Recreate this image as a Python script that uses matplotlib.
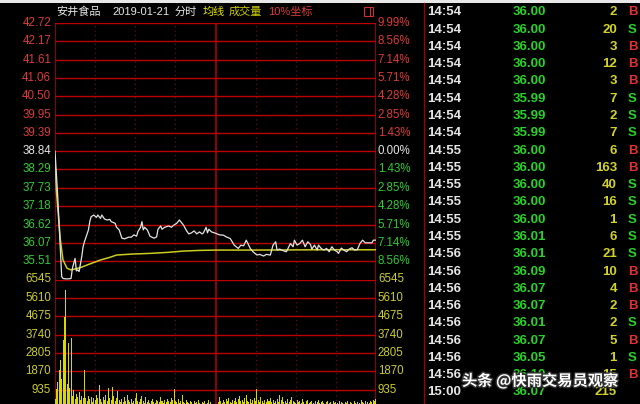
import matplotlib
matplotlib.use('Agg')
import matplotlib.pyplot as plt
from matplotlib.patches import Rectangle
from matplotlib.lines import Line2D
from matplotlib import patheffects
from matplotlib.transforms import blended_transform_factory

plt.rcParams['font.family'] = ['Liberation Sans', 'Noto Sans CJK SC']

# ---- intraday price (minute index, price) ----
price_min = [0, 2, 4, 5, 6, 8, 10, 12, 13, 14,
             15, 16, 17, 18, 20, 21, 22, 25, 26, 27,
             29, 31, 32, 34, 35, 37, 39, 41, 42, 45,
             46, 48, 50, 52, 55, 57, 59, 61, 62, 64,
             65, 66, 67, 69, 70, 71, 74, 76, 77, 79,
             80, 82, 85, 87, 89, 91, 93, 94, 96, 98,
             100, 102, 104, 106, 108, 110, 111, 113, 114, 115,
             117, 120, 123, 126, 128, 131, 134, 137, 139, 141,
             143, 146, 148, 151, 153, 156, 158, 161, 163, 165,
             166, 168, 170, 173, 176, 178, 179, 181, 183, 185,
             187, 189, 191, 192, 194, 196, 197, 199, 201, 203,
             205, 207, 209, 211, 212, 214, 216, 218, 220, 222,
             224, 226, 228, 230, 232, 235, 237, 238, 240]
price_val = [38.84, 37.50, 35.90, 35.05, 34.99, 34.98, 34.98, 34.99, 35.30, 35.45,
             35.60, 35.22, 35.25, 35.20, 35.65, 35.95, 36.10, 36.46, 36.71, 36.86,
             36.91, 36.84, 36.91, 36.81, 36.91, 36.79, 36.76, 36.78, 36.71, 36.66,
             36.54, 36.46, 36.21, 36.19, 36.24, 36.24, 36.31, 36.27, 36.41, 36.54,
             36.71, 36.46, 36.54, 36.46, 36.37, 36.27, 36.21, 36.25, 36.48, 36.58,
             36.48, 36.54, 36.58, 36.54, 36.61, 36.66, 36.76, 36.71, 36.61, 36.46,
             36.34, 36.37, 36.43, 36.34, 36.40, 36.34, 36.37, 36.54, 36.37, 36.48,
             36.40, 36.36, 36.31, 36.30, 36.25, 36.20, 36.00, 35.90, 36.00, 35.98,
             36.15, 35.90, 35.80, 35.70, 35.72, 35.67, 35.72, 35.70, 36.00, 36.10,
             35.85, 35.88, 35.84, 35.80, 36.05, 35.95, 36.15, 36.00, 36.05, 36.15,
             35.95, 36.10, 36.02, 35.88, 36.00, 35.85, 36.00, 35.90, 35.85, 35.90,
             35.80, 35.95, 35.85, 35.80, 35.75, 35.91, 35.85, 35.80, 35.88, 35.92,
             35.85, 35.86, 36.05, 36.15, 36.07, 36.07, 36.07, 36.15, 36.15]

avg_min = [0, 1, 4, 6, 9, 12, 19, 26, 34, 41, 46, 58, 71, 84, 96, 108, 121, 150, 200, 240]
avg_val = [38.55, 37.66, 36.16, 35.55, 35.30, 35.25, 35.32, 35.43, 35.55, 35.63,
           35.70, 35.73, 35.75, 35.78, 35.82, 35.84, 35.85, 35.85, 35.86, 35.86]

# ---- per-minute volume ----
volume = [470, 980, 1300, 1930, 2440, 1500, 3460, 4630, 5990, 1200,
          3300, 1000, 3540, 600, 900, 450, 700, 550, 800, 400,
          600, 500, 1930, 500, 350, 600, 450, 550, 300, 500,
          400, 650, 500, 1150, 450, 300, 550, 400, 650, 350,
          1020, 500, 400, 1050, 600, 350, 500, 850, 400, 300,
          450, 300, 550, 350, 660, 400, 300, 450, 250, 350,
          500, 760, 350, 300, 450, 600, 350, 250, 580, 300,
          400, 250, 350, 450, 300, 250, 400, 350, 300, 580,
          350, 250, 400, 300, 450, 350, 300, 500, 400, 970,
          350, 300, 450, 250, 350, 660, 300, 250, 400, 300,
          250, 350, 300, 200, 350, 250, 300, 400, 250, 200,
          300, 250, 350, 200, 250, 400, 300, 200, 150, 150,
          150, 150, 300, 560, 350, 250, 400, 300, 450, 350,
          500, 300, 250, 400, 350, 500, 300, 450, 610, 350,
          400, 300, 500, 660, 350, 300, 450, 250, 400, 500,
          350, 950, 400, 300, 550, 350, 250, 400, 300, 450,
          350, 500, 300, 400, 250, 350, 450, 300, 660, 400,
          550, 300, 350, 250, 450, 300, 400, 560, 350, 300,
          250, 400, 300, 350, 250, 450, 300, 200, 350, 400,
          250, 300, 350, 250, 200, 350, 300, 400, 250, 300,
          350, 250, 200, 300, 350, 250, 300, 200, 350, 250,
          300, 250, 200, 350, 300, 250, 200, 300, 250, 350,
          200, 300, 250, 200, 350, 250, 300, 200, 250, 400,
          300, 250, 350, 200, 300, 250, 350, 300, 400, 350, 450]

# ---- axis labels ----
price_ticks = [42.72, 42.17, 41.61, 41.06, 40.50, 39.95, 39.39, 38.84,
               38.29, 37.73, 37.18, 36.62, 36.07, 35.51]
pct_labels = ['9.99%', '8.56%', '7.14%', '5.71%', '4.28%', '2.85%', '1.43%', '0.00%',
              '1.43%', '2.85%', '4.28%', '5.71%', '7.14%', '8.56%']
price_low = 34.96
prev_close = 38.84
vol_ticks = [6545, 5610, 4675, 3740, 2805, 1870, 935]

# ---- tick-by-tick list ----
tick_time = ['14:54'] * 8 + ['14:55'] * 6 + ['14:56'] * 8 + ['15:00']
tick_price = ['36.00', '36.00', '36.00', '36.00', '36.00', '35.99', '35.99', '35.99',
              '36.00', '36.00', '36.00', '36.00', '36.00', '36.01',
              '36.01', '36.09', '36.07', '36.07', '36.01', '36.07', '36.05', '36.10',
              '36.07']
tick_vol = ['2', '20', '3', '12', '3', '7', '2', '7',
            '6', '163', '40', '16', '1', '6',
            '21', '10', '4', '2', '2', '5', '1', '15',
            '215']
tick_side = ['B', 'S', 'B', 'B', 'B', 'S', 'S', 'S',
             'B', 'B', 'S', 'S', 'S', 'S',
             'S', 'B', 'B', 'B', 'S', 'B', 'S', 'B',
             '']

RED = '#dc3a3a'
GREEN = '#30cc30'
WHITE = '#e6e6e6'
YEL = '#cccc30'
GRID = '#bc0000'

W, H = 640, 404
fig = plt.figure(figsize=(6.4, 4.04), dpi=100, facecolor='black')


def fx(px):
    return px / W


def fy(py):
    return 1 - py / H


# price panel on top, volume panel below (runs a little past the bottom edge)
ax_p = fig.add_axes([fx(55), fy(279.5), 321 / W, 256.5 / H])
ax_v = fig.add_axes([fx(55), fy(408), 321 / W, 128.5 / H])

for ax in (ax_p, ax_v):
    ax.set_facecolor('black')
    for s in ax.spines.values():
        s.set_visible(False)
    ax.set_xticks([])
    ax.set_yticks([])
    ax.set_xlim(0, 240)
    for m in range(0, 241, 30):
        if m in (0, 120, 240):
            ax.axvline(m, color=GRID, lw=1.1, zorder=1)
        else:
            ax.axvline(m, color='#8c0000', lw=0.8, ls=(0, (1, 3)), zorder=1)

ax_p.set_ylim(price_low, price_ticks[0])
ax_v.set_ylim(0, vol_ticks[0])

for v in price_ticks:
    ax_p.axhline(v, color=GRID, lw=1.0, zorder=1)
for v in vol_ticks:
    ax_v.axhline(v, color=GRID, lw=1.0, zorder=1)

tp = blended_transform_factory(ax_p.transAxes, ax_p.transData)
for v, lab in zip(price_ticks, pct_labels):
    if v > prev_close:
        col = RED
    elif v < prev_close:
        col = GREEN
    else:
        col = WHITE
    ax_p.text(-0.012, v, f'{v:.2f}', transform=tp, ha='right', va='center',
              color=col, fontsize=8.3)
    ax_p.text(1.006, v, lab, transform=tp, ha='left', va='center',
              color=col, fontsize=8.3)

tv = blended_transform_factory(ax_v.transAxes, ax_v.transData)
for v in vol_ticks:
    ax_v.text(-0.012, v, str(v), transform=tv, ha='right', va='center',
              color=YEL, fontsize=8.3)
    ax_v.text(1.006, v, str(v), transform=tv, ha='left', va='center',
              color=YEL, fontsize=8.3)

ax_p.plot(price_min, price_val, color='#e4e4e4', lw=0.9, zorder=4)
ax_p.plot(avg_min, avg_val, color='#cccc1e', lw=1.1, zorder=3)
ax_v.bar(range(len(volume)), volume, width=0.75, color='#d8d800', lw=0, zorder=3)

# title row
title_parts = [(56, '安井食品', WHITE), (112, '2019-01-21', WHITE), (175, '分时', WHITE),
               (203, '均线', '#e8e800'), (229, '成交量', '#cccc00'), (268, '10%坐标', RED)]
for x, t, c in title_parts:
    fig.text(fx(x), fy(12), t, color=c, fontsize=8, ha='left', va='center')

# small window icon
fig.patches.append(Rectangle((fx(364), fy(15.5)), 8.5 / W, 8.5 / H, transform=fig.transFigure,
                             fill=False, edgecolor='#c83232', lw=0.8))
fig.lines.append(Line2D([fx(370), fx(370)], [fy(15.5), fy(7)], transform=fig.transFigure,
                        color='#c83232', lw=0.8))

# top light strip and separator
fig.patches.append(Rectangle((0, fy(3)), 1, 3 / H, transform=fig.transFigure,
                             color='#e8e8e8', lw=0))
fig.lines.append(Line2D([fx(424), fx(424)], [fy(3), 0], transform=fig.transFigure,
                        color='#a00000', lw=1.0))

# tick list
for i in range(len(tick_time)):
    y = fy(12.3 + 17.28 * i)
    fig.text(fx(427), y, tick_time[i], color=WHITE, fontsize=9.5, weight='bold',
             ha='left', va='center')
    fig.text(fx(513), y, tick_price[i], color='#28d228', fontsize=9.5, weight='bold',
             ha='left', va='center')
    fig.text(fx(617), y, tick_vol[i], color='#d2d228', fontsize=9.5, weight='bold',
             ha='right', va='center')
    side_col = '#e03232' if tick_side[i] == 'B' else '#28d228'
    fig.text(fx(628), y, tick_side[i], color=side_col, fontsize=9.5, weight='bold',
             ha='left', va='center')

# watermark sits over the last rows, as in the screenshot
fig.text(fx(462), fy(381), '头条 @快雨交易员观察', color='white', fontsize=11,
         weight='bold', ha='left', va='center', family=['Noto Sans CJK SC'],
         path_effects=[patheffects.withStroke(linewidth=2, foreground='#303030')])

fig.savefig('out.png', dpi=100, facecolor='black')
